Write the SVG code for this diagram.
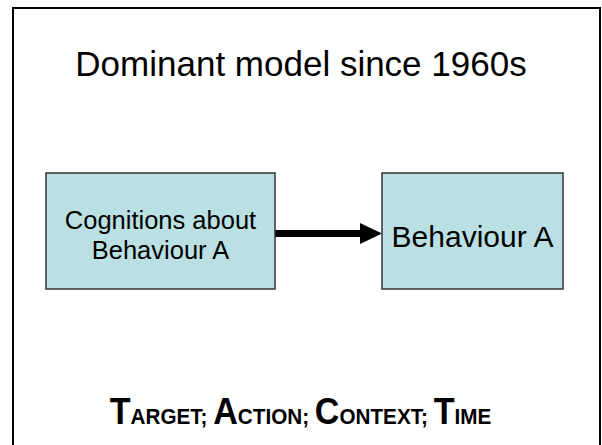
<svg xmlns="http://www.w3.org/2000/svg" width="602" height="445" viewBox="0 0 602 445">
<style>
text{font-family:"Liberation Sans",Arial,sans-serif;fill:#000}
.box{fill:#BBE0E3;stroke:#333;stroke-width:1.5}
.big{font-weight:bold;font-size:37px}
.sm{font-size:22.5px}
</style>
<rect x="13" y="8" width="587" height="450" fill="#fff" stroke="#000" stroke-width="2"/>
<text x="301" y="76" font-size="35" text-anchor="middle">Dominant model since 1960s</text>
<g id="connectors">
<rect x="275" y="230" width="87" height="7" fill="#000"/>
<polygon points="360,223 382,233.5 360,244" fill="#000"/>
</g>
<g id="node-cognitions">
<rect class="box" x="46" y="173" width="229" height="116"/>
<text x="160.5" y="229" font-size="25.5" text-anchor="middle">Cognitions about</text>
<text x="160.5" y="259" font-size="25.5" text-anchor="middle">Behaviour A</text>
</g>
<g id="node-behaviour">
<rect class="box" x="382" y="173" width="181" height="116"/>
<text x="472.5" y="247" font-size="30" text-anchor="middle">Behaviour A</text>
</g>
<text transform="translate(300.5 424) scale(0.92 1)" text-anchor="middle" font-weight="bold"><tspan class="big">T</tspan><tspan class="sm">ARGET; </tspan><tspan class="big">A</tspan><tspan class="sm">CTION; </tspan><tspan class="big">C</tspan><tspan class="sm">ONTEXT; </tspan><tspan class="big">T</tspan><tspan class="sm">IME</tspan></text>
</svg>
